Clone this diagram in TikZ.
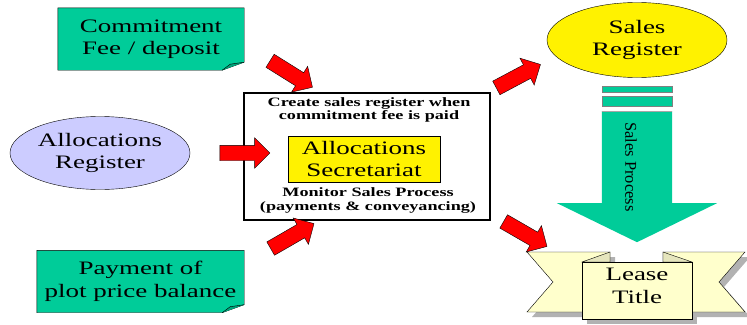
\documentclass[tikz,border=0pt]{standalone}
\usepackage{fontspec}
\setmainfont{Liberation Serif}[FakeStretch=1.42]
\newfontfamily\plainserif{Liberation Serif}
\usetikzlibrary{shapes, shapes.arrows, positioning}

\definecolor{notegreen}{HTML}{00CC99}
\definecolor{lavender}{HTML}{CCCCFF}
\definecolor{ribbon}{HTML}{FFFFCC}

\begin{document}
\begin{tikzpicture}[x=1pt, y=-1pt,
    bigtext/.style={font=\fontsize{19}{22.5}\selectfont, align=center},
    smalltext/.style={font=\fontsize{12.8}{13.5}\selectfont\bfseries, align=center},
    note/.style={bigtext, minimum height=62, inner sep=0},
    oval/.style={ellipse, draw, bigtext, inner sep=0},
    redarrow/.style={single arrow, draw, fill=red, minimum height=50, inner xsep=0,
        inner ysep=7.5, single arrow head extend=7.5}]
    \useasboundingbox (0, 0) rectangle (747, 324);

    % notes on the left
    \node[note, minimum width=186] (commit) at (151, 39) {};
    \node[note, minimum width=207] (pay) at (140.5, 281.5) {};
    \foreach \n in {commit, pay} {
        \draw[fill=notegreen] (\n.north west) -- (\n.north east) -- ([yshift=8pt]\n.south east)
            -- ([xshift=-22pt]\n.south east) -- (\n.south west) -- cycle;
        \draw[fill=notegreen!80!black] ([xshift=-22pt]\n.south east)
            -- ([xshift=-14pt, yshift=6pt]\n.south east) -- ([yshift=8pt]\n.south east);
    }
    \node[note] at (commit) {Commitment\\Fee / deposit};
    \node[note] at (pay) {Payment of\\plot price balance};

    \node[oval, fill=lavender, minimum width=180, minimum height=73] (alloc) at (100, 153)
        {Allocations\\Register};

    % central box
    \node[draw, line width=2.5pt, fill=white, minimum width=246, minimum height=127] (box)
        at (367, 156.5) {};
    \node[smalltext] (create) at (369, 110) {Create sales register when\\commitment fee is paid};
    \node[draw, fill=yellow, bigtext, minimum width=152, minimum height=46, inner sep=0]
        (secr) at (364, 159) {Allocations\\Secretariat};
    \node[smalltext] (monitor) at (368, 200.5) {Monitor Sales Process\\(payments \& conveyancing)};

    \node[redarrow, rotate=-32] (in1) at (288, 72) {};
    \node[redarrow, rotate=0] (in2) at (241, 153) {};
    \node[redarrow, rotate=30] (in3) at (289, 238) {};
    \node[redarrow, rotate=28] (out1) at (515, 78) {};
    \node[redarrow, rotate=-30] (out2) at (522, 232) {};

    % sales register and the process arrow
    \node[oval, fill=yellow, minimum width=180, minimum height=75] (sales) at (637, 40)
        {Sales\\Register};
    \draw[gray, fill=notegreen] (602, 86) rectangle (672, 92);
    \draw[gray, fill=notegreen] (602, 96) rectangle (672, 106);
    \node[single arrow, fill=notegreen, rotate=-90, minimum height=131, inner xsep=0,
        inner ysep=35, single arrow head extend=45, single arrow tip angle=128,
        anchor=tail] (proc) at (637, 111) {};
    \draw[gray!70] (602, 111) -- (672, 111);
    \node[rotate=-90, font=\plainserif\fontsize{16.5}{16.5}\selectfont] (proclabel) at (631, 167)
        {Sales Process};

    % lease title ribbon
    \begin{scope}[fill=gray!60, shift={(5, 5)}]
        \fill (527, 252) -- (610, 252) -- (610, 312) -- (527, 312) -- (553, 282) -- cycle;
        \fill (663, 252) -- (745, 252) -- (719, 282) -- (745, 312) -- (663, 312) -- cycle;
        \fill (582, 262) rectangle (692, 319);
    \end{scope}
    \draw[fill=ribbon] (527, 252) -- (610, 252) -- (610, 312) -- (527, 312) -- (553, 282) -- cycle;
    \draw[fill=ribbon] (663, 252) -- (745, 252) -- (719, 282) -- (745, 312) -- (663, 312) -- cycle;
    \draw[fill=ribbon!80!gray] (582, 262) -- (610, 252) -- (610, 262) -- cycle;
    \draw[fill=ribbon!80!gray] (692, 262) -- (663, 252) -- (663, 262) -- cycle;
    \node[draw, fill=ribbon, minimum width=110, minimum height=57, inner sep=0] (lease)
        at (637, 290.5) {};
    \node[bigtext] (leasetext) at (637, 286) {Lease\\Title};
\end{tikzpicture}
\end{document}
